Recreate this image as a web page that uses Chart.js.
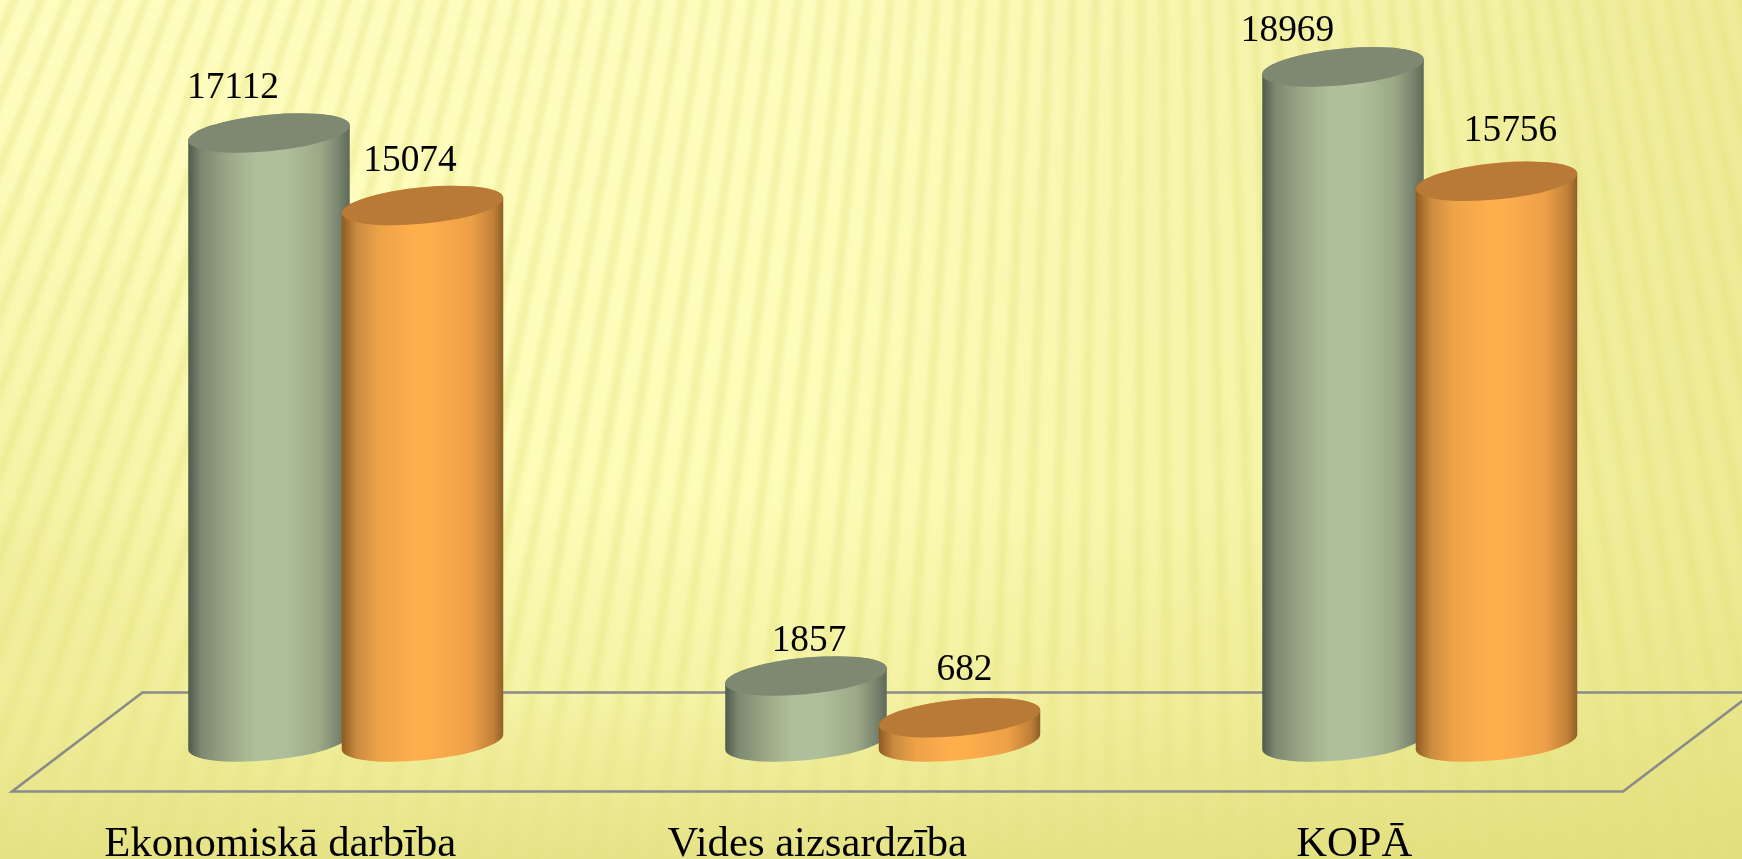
<!DOCTYPE html>
<html>
<head>
<meta charset="utf-8">
<style>
html,body{margin:0;padding:0;background:#f4f2a8;overflow:hidden}
#wrap{position:absolute;left:0;top:0;width:1742px;height:859px}
</style>
<script src="https://cdn.jsdelivr.net/npm/chart.js@4"></script>
</head>
<body>
<div id="wrap"><canvas id="c" width="1742" height="859"></canvas></div>
<script>
const categories = ['Ekonomiskā darbība', 'Vides aizsardzība', 'KOPĀ'];
const seriesA = [17112, 1857, 18969];
const seriesB = [15074, 682, 15756];
const seriesAName = 'A';
const seriesBName = 'B';

const SERIF = '"Liberation Serif","Times New Roman",serif';

const LOOK = [
  {
    top: '#7f8870',
    stops: [[0,'#4f5a4b'],[0.08,'#7d8870'],[0.25,'#9aa886'],[0.42,'#b0bf9b'],[0.6,'#b0bf9b'],[0.82,'#9aa886'],[0.93,'#7a8570'],[1,'#5e6a58']],
    nudge: [[-36,-35],[3,-25],[-55.5,-26]]
  },
  {
    top: '#b87a36',
    stops: [[0,'#8f5a22'],[0.09,'#c98a3f'],[0.23,'#eda349'],[0.45,'#ffae4c'],[0.54,'#ffae4c'],[0.8,'#eda048'],[0.94,'#c08038'],[1,'#8f5f26']],
    nudge: [[-12.5,-35],[5,-37.5],[14,-40]]
  }
];

const backdrop = {
  id: 'backdrop',
  beforeDraw(chart) {
    const ctx = chart.ctx, W = chart.width, H = chart.height;
    ctx.save();
    const g = ctx.createLinearGradient(0, 0, 0, H);
    g.addColorStop(0, '#fefdc0');
    g.addColorStop(0.58, '#fdfcb8');
    g.addColorStop(0.81, '#f5f3a5');
    g.addColorStop(1, '#e6e388');
    ctx.fillStyle = g;
    ctx.fillRect(0, 0, W, H);
    const r = ctx.createLinearGradient(800, 0, W, 0);
    r.addColorStop(0, 'rgba(222,219,115,0)');
    r.addColorStop(1, 'rgba(222,219,115,0.5)');
    ctx.fillStyle = r;
    ctx.fillRect(0, 0, W, H);
    const l = ctx.createRadialGradient(0, 580, 0, 0, 580, 480);
    l.addColorStop(0, 'rgba(222,219,115,0.32)');
    l.addColorStop(1, 'rgba(222,219,115,0)');
    ctx.fillStyle = l;
    ctx.fillRect(0, 0, W, H);
    const ox = 1150, oy = -2700, step = 0.0084;
    const sg = ctx.createLinearGradient(0, 0, 0, H);
    sg.addColorStop(0, 'rgba(226,224,120,0.38)');
    sg.addColorStop(0.75, 'rgba(226,224,120,0.36)');
    sg.addColorStop(1, 'rgba(226,224,120,0.12)');
    ctx.fillStyle = sg;
    ctx.filter = 'blur(2.5px)';
    for (let a = -0.45; a < 0.25; a += step) {
      const d = 4500, w = step * 0.33;
      ctx.beginPath();
      ctx.moveTo(ox, oy);
      ctx.lineTo(ox + Math.sin(a) * d, oy + Math.cos(a) * d);
      ctx.lineTo(ox + Math.sin(a + w) * d, oy + Math.cos(a + w) * d);
      ctx.closePath();
      ctx.fill();
    }
    ctx.filter = 'none';
    ctx.restore();
  }
};

const floorPlane = {
  id: 'floorPlane',
  beforeDatasetsDraw(chart) {
    const ctx = chart.ctx, a = chart.chartArea, dx = 65.2, dy = 49.5;
    ctx.save();
    ctx.strokeStyle = '#8a8a8a';
    ctx.lineWidth = 2.6;
    ctx.beginPath();
    ctx.moveTo(a.left - dx, a.bottom + dy);
    ctx.lineTo(a.right - dx, a.bottom + dy);
    ctx.lineTo(a.right + dx, a.bottom - dy);
    ctx.lineTo(a.left + dx, a.bottom - dy);
    ctx.closePath();
    ctx.stroke();
    ctx.restore();
  }
};

function cylinder(ctx, bar, look) {
  const a = bar.width / 2, b = 18.3, k = 7.5;
  const h = bar.base - bar.y;
  ctx.save();
  ctx.transform(1, -k / a, 0, 1, bar.x, bar.y);
  const g = ctx.createLinearGradient(-a, 0, a, 0);
  look.stops.forEach(s => g.addColorStop(s[0], s[1]));
  ctx.fillStyle = g;
  ctx.beginPath();
  ctx.moveTo(-a, 0);
  ctx.lineTo(-a, h);
  ctx.ellipse(0, h, a, b, 0, Math.PI, 0, true);
  ctx.lineTo(a, 0);
  ctx.ellipse(0, 0, a, b, 0, 0, Math.PI, true);
  ctx.closePath();
  ctx.fill();
  ctx.fillStyle = look.top;
  ctx.beginPath();
  ctx.ellipse(0, 0, a, b, 0, 0, Math.PI * 2);
  ctx.fill();
  ctx.restore();
}

const cylinders = {
  id: 'cylinders',
  beforeDatasetDraw() {
    return false;
  },
  afterDatasetsDraw(chart) {
    const ctx = chart.ctx;
    chart.data.datasets.forEach((ds, i) => {
      chart.getDatasetMeta(i).data.forEach(bar => cylinder(ctx, bar, LOOK[i]));
    });
    ctx.save();
    ctx.font = '37.33px ' + SERIF;
    ctx.fillStyle = '#000';
    ctx.textAlign = 'center';
    ctx.textBaseline = 'alphabetic';
    chart.data.datasets.forEach((ds, i) => {
      chart.getDatasetMeta(i).data.forEach((bar, j) => {
        ctx.fillText(String(ds.data[j]), bar.x + LOOK[i].nudge[j][0], bar.y + LOOK[i].nudge[j][1]);
      });
    });
    ctx.restore();
  }
};

new Chart(document.getElementById('c'), {
  type: 'bar',
  data: {
    labels: categories,
    datasets: [
      { label: seriesAName, data: seriesA, backgroundColor: '#b0bf9b', categoryPercentage: 0.5717, barPercentage: 1.052 },
      { label: seriesBName, data: seriesB, backgroundColor: '#ffae4c', categoryPercentage: 0.5717, barPercentage: 1.052 }
    ]
  },
  plugins: [backdrop, floorPlane, cylinders],
  options: {
    responsive: false,
    animation: false,
    events: [],
    layout: { padding: { left: 77.25, right: 53.75, top: 30.2, bottom: 0 } },
    plugins: { legend: { display: false }, tooltip: { enabled: false }, title: { display: false } },
    scales: {
      y: { display: false, min: 0, max: 20000 },
      x: {
        grid: { display: false },
        border: { display: false },
        afterFit(s) { s.height = 117; },
        ticks: {
          padding: 69,
          labelOffset: -65.5,
          maxRotation: 0,
          autoSkip: false,
          color: '#000',
          font: { family: SERIF, size: 42.67 }
        }
      }
    }
  }
});
</script>
</body>
</html>
